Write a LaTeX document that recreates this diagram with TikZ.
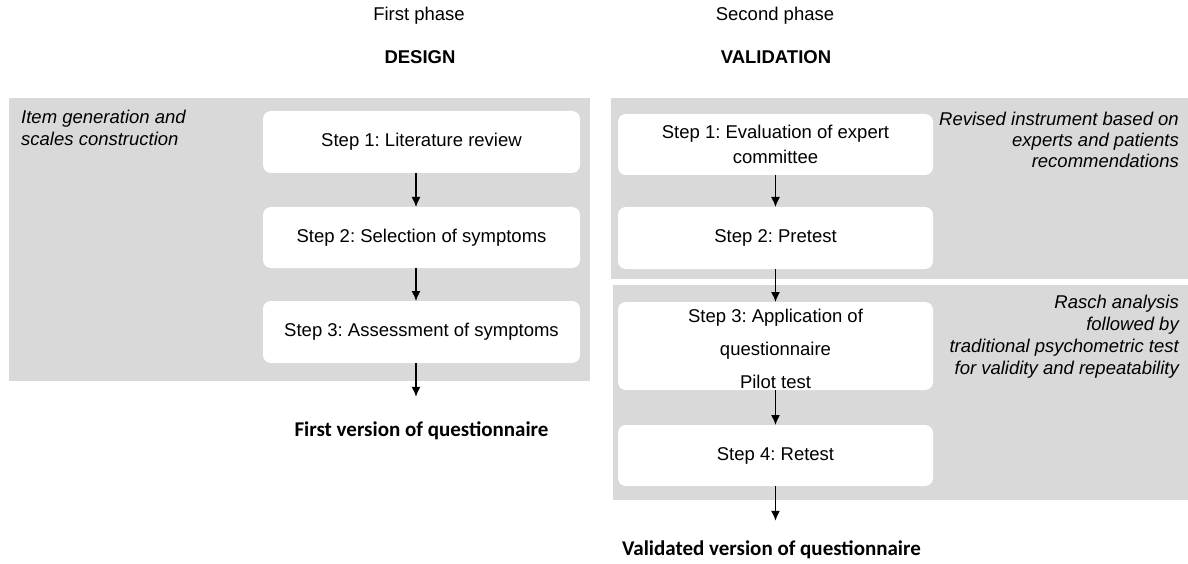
\documentclass[tikz,border=0pt]{standalone}
\usepackage{fontspec}
\setmainfont{Liberation Sans}
\newfontfamily\calib{Carlito}
\usetikzlibrary{arrows.meta}
\definecolor{panelgray}{HTML}{D9D9D9}
\frenchspacing
\begin{document}
\begin{tikzpicture}[x=1pt,y=-1pt,
  panel/.style={fill=panelgray, draw=none, inner sep=0pt, outer sep=0pt},
  stepbox/.style={fill=white, draw=none, rounded corners=8pt, inner sep=0pt, outer sep=0pt,
    align=center, font=\fontsize{18.5}{22}\selectfont},
  note/.style={inner sep=0pt, font=\fontsize{18.5}{21}\selectfont\itshape},
  head/.style={inner sep=0pt, font=\fontsize{18.5}{22}\selectfont},
  result/.style={inner sep=0pt, font=\fontsize{21}{24}\selectfont\calib\bfseries},
  flow/.style={line width=1.3pt, -{Latex[length=10pt,width=9pt]}}
]
\useasboundingbox (0,0) rectangle (1188,564);

% headers
\node[head] (h1) at (419,16) {First phase};
\node[head, font=\fontsize{18.5}{22}\selectfont\bfseries] (h2) at (420,57) {DESIGN};
\node[head] (h3) at (775,16) {Second phase};
\node[head, font=\fontsize{18.5}{22}\selectfont\bfseries] (h4) at (776,57) {VALIDATION};

% panels
\node[panel, minimum width=581pt, minimum height=283pt] (pl) at (299.5,239.5) {};
\node[panel, minimum width=577pt, minimum height=181pt] (prt) at (899.5,188.5) {};
\node[panel, minimum width=575pt, minimum height=215pt] (prb) at (900.5,392.5) {};

% left steps
\node[stepbox, minimum width=317pt, minimum height=62pt] (s1) at (421.5,142) {Step 1: Literature review};
\node[stepbox, minimum width=317pt, minimum height=61pt] (s2) at (421.5,237.5) {Step 2: Selection of symptoms};
\node[stepbox, minimum width=317pt, minimum height=62pt] (s3) at (421.5,332) {Step 3: Assessment of symptoms};

% right steps
\node[stepbox, minimum width=315pt, minimum height=61pt, font=\fontsize{18.5}{25}\selectfont] (r1) at (775.5,144.5) {Step 1: Evaluation of expert\\committee};
\node[stepbox, minimum width=315pt, minimum height=62pt] (r2) at (775.5,238) {Step 2: Pretest};
\node[stepbox, minimum width=315pt, minimum height=88pt, font=\fontsize{18.5}{33}\selectfont] (r3) at (775.5,346) {\rule{0pt}{20pt}Step 3: Application of\\questionnaire\\Pilot test};
\node[stepbox, minimum width=315pt, minimum height=61pt] (r4) at (775.5,455.5) {Step 4: Retest};

% notes
\node[note, anchor=west, align=left, font=\fontsize{18.5}{21.7}\selectfont\itshape] (n1) at (21,128) {Item generation and\\scales construction};
\node[note, anchor=east, align=right] (n2) at (1179,139.5) {Revised instrument based on\\experts and patients\\recommendations};
\node[note, anchor=east, align=right, font=\fontsize{18.5}{22}\selectfont\itshape] (n3) at (1179,337) {Rasch analysis\\followed by\\traditional psychometric test\\for validity and repeatability};

% results
\node[result] (f1) at (421.5,431) {First version of questionnaire};
\node[result] (f2) at (771.5,550) {Validated version of questionnaire};

% arrows
\coordinate (ax) at (416,0);
\draw[flow] (s1.south -| ax) -- (s2.north -| ax);
\draw[flow] (s2.south -| ax) -- (s3.north -| ax);
\draw[flow, shorten >=25pt] (s3.south -| ax) -- (f1.north -| ax);

\draw[flow] (r1) -- (r2);
\draw[flow] (r2) -- (r3);
\draw[flow] (r3) -- (r4);
\draw[flow, shorten >=20pt] (r4.south) -- (r4.south |- f2.north);
\end{tikzpicture}
\end{document}
